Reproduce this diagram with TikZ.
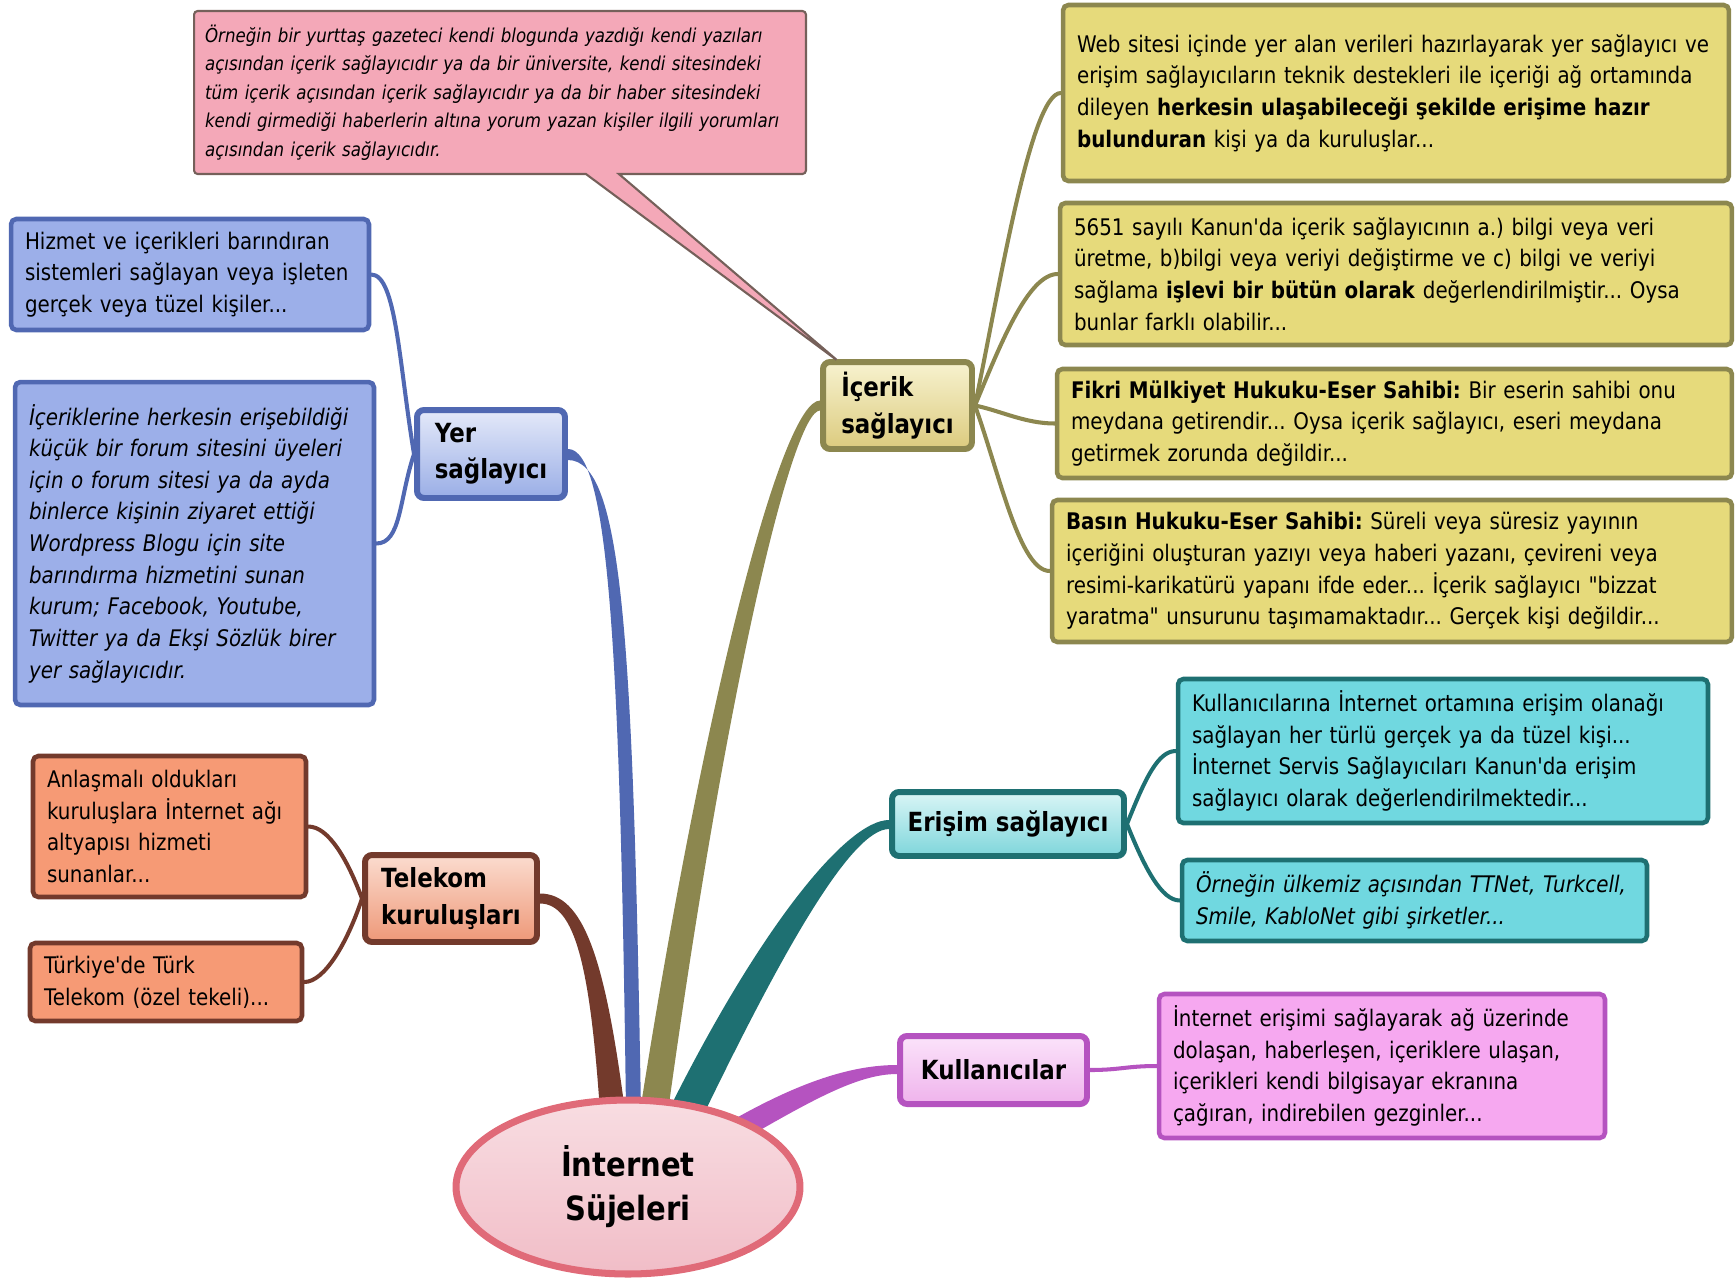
\documentclass[tikz,border=0pt]{standalone}
\usepackage{fontspec}
\setmainfont{DejaVu Sans}[FakeStretch=0.87,Ligatures=TeXOff]
\usetikzlibrary{positioning,calc,shapes.geometric,shapes.callouts,backgrounds}
\frenchspacing

\definecolor{oliveline}{HTML}{8C874F}
\definecolor{olivefill}{HTML}{E6DA7B}
\definecolor{olivetop}{HTML}{F7F2CF}
\definecolor{olivebot}{HTML}{DCCB7E}
\definecolor{blueline}{HTML}{5068B2}
\definecolor{bluefill}{HTML}{9CAFE9}
\definecolor{bluetop}{HTML}{E4E9F9}
\definecolor{bluebot}{HTML}{9AAEE6}
\definecolor{brownline}{HTML}{733A2C}
\definecolor{orangefill}{HTML}{F69A75}
\definecolor{orangetop}{HTML}{FBDCCF}
\definecolor{orangebot}{HTML}{EE9878}
\definecolor{tealline}{HTML}{1E7072}
\definecolor{cyanfill}{HTML}{70D8E0}
\definecolor{cyantop}{HTML}{D9F5F6}
\definecolor{cyanbot}{HTML}{7FD6DB}
\definecolor{plumline}{HTML}{B553C0}
\definecolor{plumfill}{HTML}{F6A8F0}
\definecolor{plumtop}{HTML}{FBE3FA}
\definecolor{plumbot}{HTML}{EFB3EC}
\definecolor{notefill}{HTML}{F4A8B8}
\definecolor{noteline}{HTML}{75605A}
\definecolor{rootfill}{HTML}{F1BDC7}
\definecolor{roottop}{HTML}{F8DDE2}
\definecolor{rootline}{HTML}{E06A78}

\begin{document}
\begin{tikzpicture}[x=0.02cm, y=-0.02cm,
    leafstyle/.style={rectangle, rounded corners=3pt, line width=2.6pt, align=left,
      inner xsep=0.28cm, inner ysep=0pt, font=\fontsize{13}{18}\selectfont},
    mainstyle/.style={rectangle, rounded corners=4pt, line width=3.4pt, inner sep=0pt,
      align=left, font=\bfseries\fontsize{15}{20.7}\selectfont},
    olivebox/.style={leafstyle, draw=oliveline, fill=olivefill},
    bluebox/.style={leafstyle, draw=blueline, fill=bluefill},
    orangebox/.style={leafstyle, draw=brownline, fill=orangefill},
    cyanbox/.style={leafstyle, draw=tealline, fill=cyanfill},
    plumbox/.style={leafstyle, draw=plumline, fill=plumfill},
    olivemain/.style={mainstyle, draw=oliveline, top color=olivetop, bottom color=olivebot},
    bluemain/.style={mainstyle, draw=blueline, top color=bluetop, bottom color=bluebot},
    orangemain/.style={mainstyle, draw=brownline, top color=orangetop, bottom color=orangebot},
    cyanmain/.style={mainstyle, draw=tealline, top color=cyantop, bottom color=cyanbot},
    plummain/.style={mainstyle, draw=plumline, top color=plumtop, bottom color=plumbot},
    twigstyle/.style={line width=2.3pt, line cap=round}]

\useasboundingbox (0,0) rectangle (1736,1278);

% center
\node[ellipse, draw=rootline, line width=4pt, top color=roottop, bottom color=rootfill,
  minimum width=6.88cm, minimum height=3.48cm, align=center,
  font=\bfseries\fontsize{19}{25}\selectfont] (sujeler) at (628,1187) {İnternet\\Süjeleri};
\coordinate (root) at (sujeler.north);

% main topics
\node[olivemain, minimum width=2.98cm, minimum height=1.74cm] (icerik) at (897.5,405.5) {İçerik\\sağlayıcı};
\node[bluemain, minimum width=2.96cm, minimum height=1.76cm] (yer) at (491,454) {Yer\\sağlayıcı};
\node[orangemain, minimum width=3.44cm, minimum height=1.74cm] (telekom) at (451,898.5) {Telekom\\kuruluşları};
\node[cyanmain, minimum width=4.64cm, minimum height=1.28cm] (erisim) at (1008,824) {Erişim sağlayıcı};
\node[plummain, minimum width=3.74cm, minimum height=1.36cm] (kul) at (993.5,1070) {Kullanıcılar};

% İçerik sağlayıcı
\node[olivebox, text width=12.76cm, minimum height=3.52cm] (web) at (1396,93)
  {Web sitesi içinde yer alan verileri hazırlayarak yer sağlayıcı ve\\
   erişim sağlayıcıların teknik destekleri ile içeriği ağ ortamında\\
   dileyen \textbf{herkesin ulaşabileceği şekilde erişime hazır}\\
   \textbf{bulunduran} kişi ya da kuruluşlar...};
\node[olivebox, text width=12.88cm, minimum height=2.84cm] (kanun) at (1396,274)
  {5651 sayılı Kanun'da içerik sağlayıcının a.) bilgi veya veri\\
   üretme, b)bilgi veya veriyi değiştirme ve c) bilgi ve veriyi\\
   sağlama \textbf{işlevi bir bütün olarak} değerlendirilmiştir... Oysa\\
   bunlar farklı olabilir...};
\node[olivebox, text width=12.94cm, minimum height=2.18cm] (fikri) at (1394.5,423.5)
  {\textbf{Fikri Mülkiyet Hukuku-Eser Sahibi:} Bir eserin sahibi onu\\
   meydana getirendir... Oysa içerik sağlayıcı, eseri meydana\\
   getirmek zorunda değildir...};
\node[olivebox, text width=13.04cm, minimum height=2.84cm] (basin) at (1392,571)
  {\textbf{Basın Hukuku-Eser Sahibi:} Süreli veya süresiz yayının\\
   içeriğini oluşturan yazıyı veya haberi yazanı, çevireni veya\\
   resimi-karikatürü yapanı ifde eder... İçerik sağlayıcı "bizzat\\
   yaratma" unsurunu taşımamaktadır... Gerçek kişi değildir...};
\node[rectangle callout, draw=noteline, fill=notefill, line width=1.2pt, rounded corners=2pt,
  callout absolute pointer={($(icerik.north west)+(18,2)$)}, callout pointer width=0.66cm,
  text width=11.8cm, minimum height=3.26cm, inner xsep=0.22cm, inner ysep=0pt, align=left,
  font=\itshape\fontsize{10.9}{16.2}\selectfont] (ornek1) at (500,92.5)
  {Örneğin bir yurttaş gazeteci kendi blogunda yazdığı kendi yazıları\\
   açısından içerik sağlayıcıdır ya da bir üniversite, kendi sitesindeki\\
   tüm içerik açısından içerik sağlayıcıdır ya da bir haber sitesindeki\\
   kendi girmediği haberlerin altına yorum yazan kişiler ilgili yorumları\\
   açısından içerik sağlayıcıdır.};

% Yer sağlayıcı
\node[bluebox, text width=6.6cm, minimum height=2.22cm] (hizmet) at (190,274.5)
  {Hizmet ve içerikleri barındıran\\
   sistemleri sağlayan veya işleten\\
   gerçek veya tüzel kişiler...};
\node[bluebox, text width=6.62cm, minimum height=6.46cm, font=\itshape\fontsize{13}{18}\selectfont] (forum) at (194.5,543.5)
  {İçeriklerine herkesin erişebildiği\\
   küçük bir forum sitesini üyeleri\\
   için o forum sitesi ya da ayda\\
   binlerce kişinin ziyaret ettiği\\
   Wordpress Blogu için site\\
   barındırma hizmetini sunan\\
   kurum; Facebook, Youtube,\\
   Twitter ya da Ekşi Sözlük birer\\
   yer sağlayıcıdır.};

% Telekom kuruluşları
\node[orangebox, text width=4.9cm, minimum height=2.82cm] (anlasma) at (169.5,826.5)
  {Anlaşmalı oldukları\\
   kuruluşlara İnternet ağı\\
   altyapısı hizmeti\\
   sunanlar...};
\node[orangebox, text width=4.88cm, minimum height=1.56cm] (turkiye) at (166,982)
  {Türkiye'de Türk\\
   Telekom (özel tekeli)...};

% Erişim sağlayıcı
\node[cyanbox, text width=10.04cm, minimum height=2.88cm] (kullanicilara) at (1443,751)
  {Kullanıcılarına İnternet ortamına erişim olanağı\\
   sağlayan her türlü gerçek ya da tüzel kişi...\\
   İnternet Servis Sağlayıcıları Kanun'da erişim\\
   sağlayıcı olarak değerlendirilmektedir...};
\node[cyanbox, text width=8.74cm, minimum height=1.62cm, font=\itshape\fontsize{13}{18}\selectfont] (ornek2) at (1414.5,900.5)
  {Örneğin ülkemiz açısından TTNet, Turkcell,\\
   Smile, KabloNet gibi şirketler...};

% Kullanıcılar
\node[plumbox, text width=8.36cm, minimum height=2.88cm] (gezgin) at (1382,1066)
  {İnternet erişimi sağlayarak ağ üzerinde\\
   dolaşan, haberleşen, içeriklere ulaşan,\\
   içerikleri kendi bilgisayar ekranına\\
   çağıran, indirebilen gezginler...};

\begin{pgfonlayer}{background}
% tapered branches
\fill[blueline] ($(yer.east)+(0,-5)$) .. controls +(40,0) and +(-6,-470) .. ($(root)+(-2,15)$)
  -- ($(root)+(13,15)$) .. controls +(-8,-470) and +(55,0) .. ($(yer.east)+(0,6)$) -- cycle;
\fill[oliveline] ($(icerik.west)+(0,-5)$) .. controls +(-38,0) and +(65,-415) .. ($(root)+(12,15)$)
  -- ($(root)+(40,15)$) .. controls +(57,-415) and +(-28,0) .. ($(icerik.west)+(0,5)$) -- cycle;
\fill[brownline] ($(telekom.east)+(0,-5)$) .. controls +(43,0) and +(-20,-155) .. ($(root)+(-3,15)$)
  -- ($(root)+(-28,15)$) .. controls +(-10,-145) and +(35,0) .. ($(telekom.east)+(0,5)$) -- cycle;
\fill[tealline] ($(erisim.west)+(0,-4)$) .. controls +(-42,0) and +(92,-185) .. ($(root)+(40,15)$)
  -- ($(root)+(77,15)$) .. controls +(80,-165) and +(-37,0) .. ($(erisim.west)+(0,5)$) -- cycle;
\fill[plumline] ($(kul.west)+(0,-5)$) .. controls +(-45,0) and +(70,-40) .. ($(root)+(102,25)$)
  -- ($(root)+(112,45)$) .. controls +(70,-40) and +(-40,0) .. ($(kul.west)+(0,4)$) -- cycle;

% leaf links
\foreach \leaf/\dy in {web/-120, kanun/-60, fikri/5, basin/70}
  \draw[twigstyle, oliveline] (icerik.east) .. controls +(25,\dy) and +(-30,0) .. (\leaf.west);
\foreach \leaf/\dy in {hizmet/-90, forum/45}
  \draw[twigstyle, blueline] (yer.west) .. controls +(-15,\dy) and +(25,0) .. (\leaf.east);
\foreach \leaf/\dy in {anlasma/-40, turkiye/45}
  \draw[twigstyle, brownline] (telekom.west) .. controls +(-15,\dy) and +(20,0) .. (\leaf.east);
\foreach \leaf/\dy in {kullanicilara/-45, ornek2/45}
  \draw[twigstyle, tealline] (erisim.east) .. controls +(18,\dy) and +(-18,0) .. (\leaf.west);
\draw[twigstyle, plumline] (kul.east) .. controls +(30,0) and +(-30,0) .. (gezgin.west);
\end{pgfonlayer}
\end{tikzpicture}
\end{document}
